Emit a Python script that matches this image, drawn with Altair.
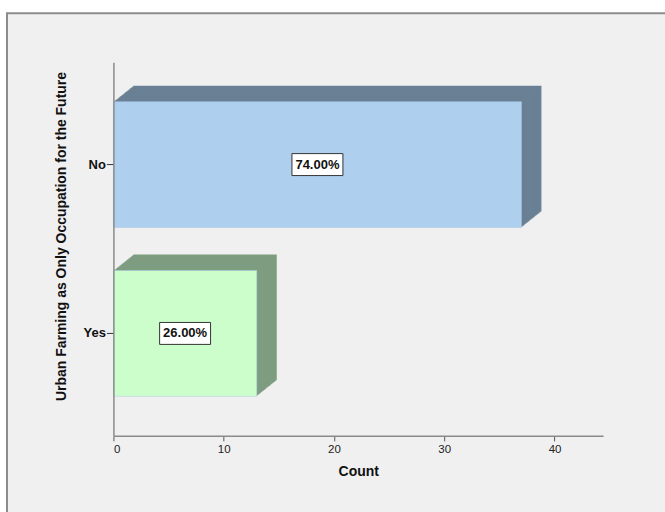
import altair as alt
import pandas as pd

categories = ["No", "Yes"]
counts = [37, 13]
front_colors = ["#aecfee", "#ccfecc"]
side_colors = ["#6a8095", "#7e9d80"]

total = sum(counts)
labels = [f"{c / total * 100:.2f}%" for c in counts]

df = pd.DataFrame({
    "cat": categories,
    "count": counts,
    "label": labels,
    "front": front_colors,
    "side": side_colors,
})
df["mid"] = df["count"] / 2

FONT = "Liberation Sans"
W, H = 490, 374

xscale = alt.Scale(domain=[0, 44.4], nice=False, zero=True)
yscale = alt.Scale(domain=categories, paddingInner=0.2544, paddingOuter=0.234, align=0.5)

x_axis = alt.Axis(
    title="Count", values=[0, 10, 20, 30, 40], grid=False, zindex=1,
    domainColor="#8a8a8a", domainWidth=1.5, tickColor="#555", tickSize=5,
    labelFont=FONT, labelFontSize=11.5, labelColor="#222", labelPadding=3,
    titleFont=FONT, titleFontSize=14, titleFontWeight="bold", titleColor="#111",
    titlePadding=9,
)
y_axis = alt.Axis(
    title="Urban Farming as Only Occupation for the Future", grid=False, zindex=1,
    domainColor="#8a8a8a", domainWidth=1.5, tickColor="#333", tickSize=7,
    labelFont=FONT, labelFontSize=13, labelFontWeight="bold", labelColor="#111",
    labelPadding=1,
    titleFont=FONT, titleFontSize=14, titleFontWeight="bold", titleColor="#111",
    titleX=-51.5, titleY=H / 2 - 13, titleAngle=-90, titleAlign="center", titleBaseline="middle",
)

base = alt.Chart(df)

# background panel (decoration)
panel = alt.Chart(pd.DataFrame({"a": [0]})).mark_rect(
    fill="#f0f0f0", stroke="#8c8c8c", strokeWidth=2
).encode(
    x=alt.value(-106.5), x2=alt.value(W + 80),
    y=alt.value(-49), y2=alt.value(H + 90),
)

layers = [panel]

# 3D extrusion: stacked offset copies of the bar
DX, DY = 20, 16
for i in range(DX, 0, -1):
    off_x = i
    off_y = -i * DY / DX
    layers.append(
        base.mark_bar(
            xOffset=off_x, x2Offset=off_x, yOffset=off_y, y2Offset=off_y,
        ).encode(
            x=alt.X("count:Q", scale=xscale, axis=x_axis),
            y=alt.Y("cat:N", scale=yscale, axis=y_axis, sort=categories),
            color=alt.Color("side:N", scale=None),
        )
    )

front = base.mark_bar(stroke="#a9c9e6", strokeWidth=0.5).encode(
    x=alt.X("count:Q", scale=xscale, axis=x_axis),
    y=alt.Y("cat:N", scale=yscale, axis=y_axis, sort=categories),
    color=alt.Color("front:N", scale=None),
)
layers.append(front)

box = base.mark_point(
    shape="M-1,-0.431L1,-0.431L1,0.431L-1,0.431Z",
    size=51 * 51, filled=True, fill="white", stroke="#333", strokeWidth=1, opacity=1,
).encode(
    x=alt.X("mid:Q", scale=xscale),
    y=alt.Y("cat:N", scale=yscale, sort=categories),
)
layers.append(box)

text = base.mark_text(
    font=FONT, fontSize=13, fontWeight="bold", color="#111", align="center", baseline="middle",
).encode(
    x=alt.X("mid:Q", scale=xscale),
    y=alt.Y("cat:N", scale=yscale, sort=categories),
    text="label:N",
)
layers.append(text)

chart = alt.layer(*layers).properties(
    width=W, height=H,
    padding={"left": 113.5, "top": 62, "right": 62, "bottom": 76},
    autosize=alt.AutoSizeParams(type="none"),
    background="white",
).configure_view(stroke=None, fill=None)

chart.save("out.html", embed_options={"renderer": "svg", "actions": False})
